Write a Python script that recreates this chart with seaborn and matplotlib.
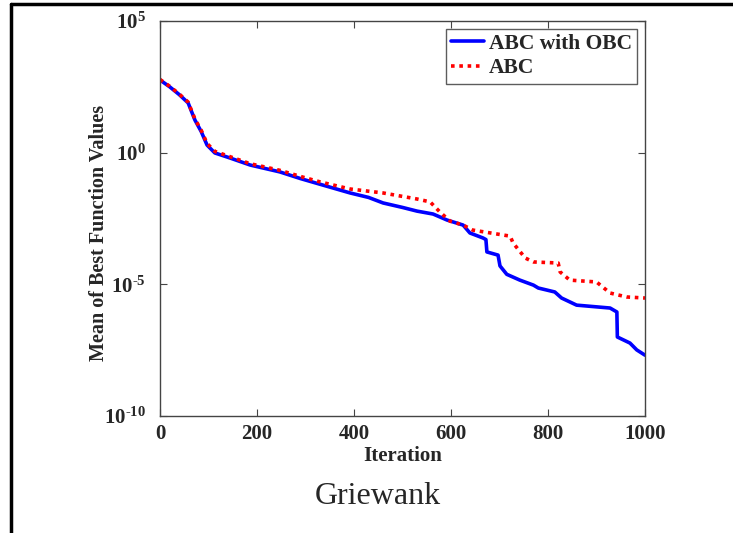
import numpy as np
import pandas as pd
import matplotlib
matplotlib.use("Agg")
import matplotlib.pyplot as plt
import seaborn as sns
from matplotlib.lines import Line2D
from matplotlib.ticker import FixedLocator, FuncFormatter, NullLocator

# Data (iteration, log10 of mean best function value)
obc_iter = [0, 20, 40, 58, 72, 85, 97, 113, 144, 186, 247, 289, 330, 392, 430, 460, 500, 530,
            563, 592, 625, 639, 666, 672, 674, 697, 701, 715, 742, 770, 780, 814, 828, 859,
            928, 942, 943, 969, 983, 1000]
obc_log = [2.76, 2.5, 2.2, 1.89, 1.24, 0.8, 0.29, -0.01, -0.2, -0.47, -0.73, -0.98, -1.2, -1.53,
           -1.7, -1.91, -2.08, -2.22, -2.33, -2.56, -2.75, -3.05, -3.24, -3.3, -3.77, -3.89,
           -4.3, -4.62, -4.84, -5.03, -5.14, -5.29, -5.52, -5.79, -5.9, -6.05, -7.0, -7.23,
           -7.49, -7.69]
abc_iter = [0, 20, 40, 58, 72, 85, 97, 113, 144, 186, 247, 289, 330, 392, 460, 530, 557, 577,
            598, 625, 645, 722, 728, 753, 770, 821, 825, 845, 900, 928, 962, 1000]
abc_log = [2.78, 2.52, 2.22, 1.92, 1.28, 0.85, 0.35, 0.05, -0.15, -0.42, -0.67, -0.9, -1.11,
           -1.38, -1.53, -1.76, -1.87, -2.25, -2.6, -2.75, -2.94, -3.17, -3.43, -4.0, -4.15,
           -4.19, -4.53, -4.84, -4.91, -5.33, -5.48, -5.52]
series_names = ["ABC with OBC", "ABC"]
x_ticks = [0, 200, 400, 600, 800, 1000]
y_ticks = [1e-10, 1e-5, 1e0, 1e5]

df = pd.concat([
    pd.DataFrame({"Iteration": obc_iter, "Value": 10.0 ** np.array(obc_log), "Method": series_names[0]}),
    pd.DataFrame({"Iteration": abc_iter, "Value": 10.0 ** np.array(abc_log), "Method": series_names[1]}),
])

sns.set_style("ticks")
plt.rcParams["font.family"] = ["Liberation Serif", "DejaVu Serif"]
plt.rcParams["mathtext.fontset"] = "custom"
plt.rcParams["mathtext.rm"] = "Liberation Serif:bold"
plt.rcParams["mathtext.bf"] = "Liberation Serif:bold"
plt.rcParams["mathtext.it"] = "Liberation Serif:italic"
plt.rcParams["axes.unicode_minus"] = False

fig = plt.figure(figsize=(7.33, 5.33), dpi=100)
ax = fig.add_axes([160 / 733, (533 - 416) / 533, (645 - 160) / 733, (416 - 21) / 533])

sns.lineplot(data=df, x="Iteration", y="Value", hue="Method", style="Method",
             palette={series_names[0]: "#0000ff", series_names[1]: "#ff0000"},
             dashes={series_names[0]: "", series_names[1]: (1, 1.3)},
             linewidth=2.6, ax=ax, sort=False, estimator=None)

ax.set_yscale("log")
ax.set_xlim(0, 1000)
ax.set_ylim(1e-10, 1e5)
ax.xaxis.set_major_locator(FixedLocator(x_ticks))
ax.yaxis.set_major_locator(FixedLocator(y_ticks))
ax.yaxis.set_minor_locator(NullLocator())


def yfmt(v, p):
    e = int(round(np.log10(v)))
    es = ("\u2010%d" % (-e)) if e < 0 else "%d" % e
    return r"$\mathbf{10}^{\mathbf{%s}}$" % es


ax.yaxis.set_major_formatter(FuncFormatter(yfmt))
ax.tick_params(direction="in", top=True, right=True, length=5, width=0.8, color="#444444",
               labelsize=15)
ax.tick_params(axis="x", pad=6)
ax.tick_params(axis="y", pad=10)
for lab in ax.get_xticklabels():
    lab.set_fontweight("bold")
for s in ax.spines.values():
    s.set_color("#444444")
    s.set_linewidth(1.0)

ax.set_xlabel("Iteration", fontsize=15, fontweight="bold", labelpad=1)
ax.set_ylabel("Mean of Best Function Values", fontsize=14.5, fontweight="bold")
ax.yaxis.set_label_coords(-0.105, 0.463)

leg = ax.legend(loc="upper right", frameon=True, fancybox=False,
                borderaxespad=0.35, handlelength=1.5, handletextpad=0.25, borderpad=0.25,
                labelspacing=0.2, prop={"weight": "bold", "size": 15.5})
leg.get_frame().set_edgecolor("#333333")
leg.get_frame().set_linewidth(1.0)

fig.text(378 / 733, 1 - 497 / 533, "Griewank", ha="center", va="center", fontsize=23)

# outer border (top and left)
fig.add_artist(Line2D([11 / 733, 1.0], [1 - 4 / 533, 1 - 4 / 533], color="black", lw=2.5,
                      transform=fig.transFigure))
fig.add_artist(Line2D([11 / 733, 11 / 733], [0, 1 - 4 / 533], color="black", lw=2.5,
                      transform=fig.transFigure))

fig.savefig("out.png", dpi=100)
